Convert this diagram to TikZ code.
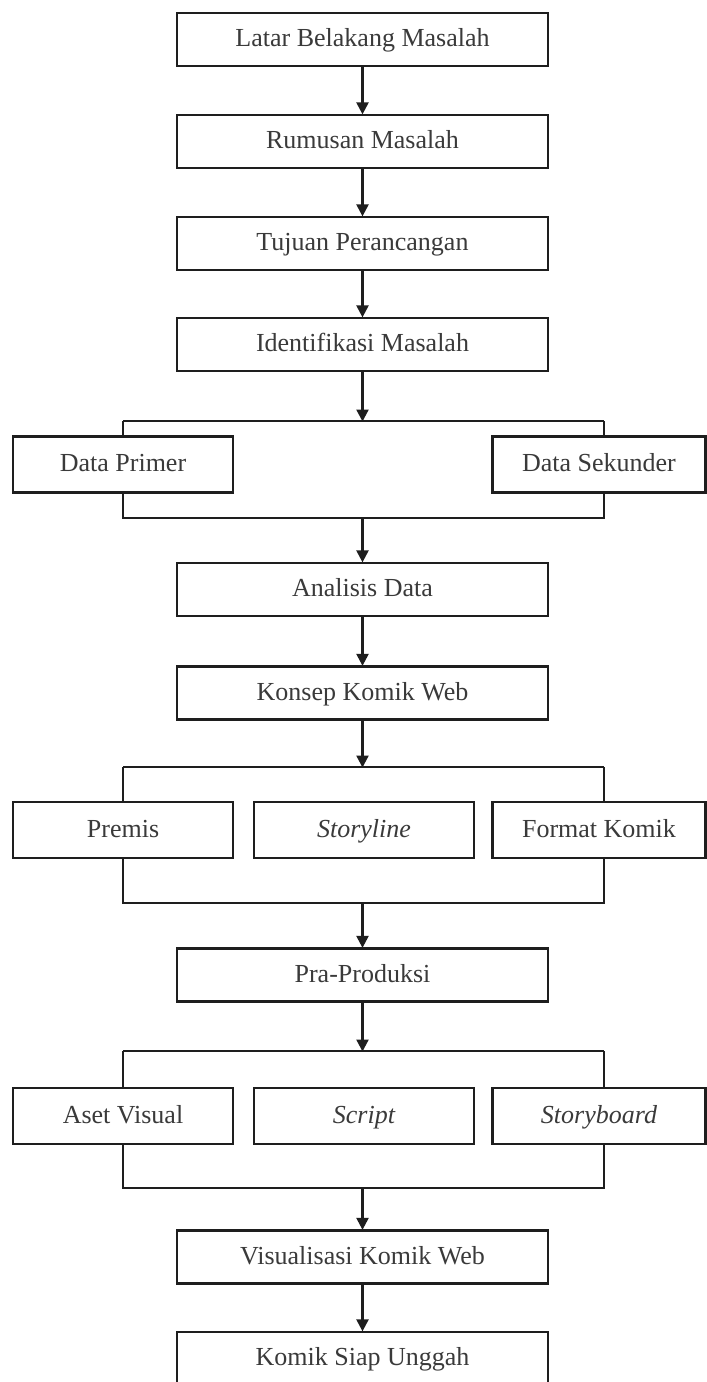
\documentclass[tikz,border=0pt]{standalone}
\usepackage{fontspec}
\setmainfont{Liberation Serif}
\usetikzlibrary{arrows.meta}
\definecolor{linec}{HTML}{1E1E1E}
\definecolor{textc}{HTML}{3A3A3A}
\tikzset{
  boxc/.style={draw=linec, line width=2.3pt, fill=white, inner sep=0pt,
    minimum width=371pt, minimum height=53pt, text=textc,
    text height=18pt, text depth=4pt,
    font=\fontsize{26}{30}\selectfont},
  boxs/.style={boxc, minimum width=220pt, minimum height=56pt},
  boxr/.style={boxc, minimum width=213pt, minimum height=56pt},
  conn/.style={draw=linec, line width=2.3pt},
  arr/.style={conn, -{Triangle[length=12pt,width=12pt]}, shorten >=-0.5pt},
}
\begin{document}
\begin{tikzpicture}[x=1pt,y=-1pt]
\useasboundingbox[fill=white] (0,0) rectangle (707,1382);

% main column boxes
\node[boxc] (b1) at (362.5,39.5) {Latar Belakang Masalah};
\node[boxc] (b2) at (362.5,141.5) {Rumusan Masalah};
\node[boxc] (b3) at (362.5,243.5) {Tujuan Perancangan};
\node[boxc] (b4) at (362.5,344.5) {Identifikasi Masalah};

% bracket 1
\coordinate (t1L) at (123,421);
\coordinate (t1R) at (604,421);
\coordinate (t1C) at (362.5,421);
\coordinate (u1L) at (123,518);
\coordinate (u1R) at (604,518);
\coordinate (u1C) at (362.5,518);
\node[boxs] (dp) at (123,464.5) {Data Primer};
\node[boxr] (ds) at (599,464.5) {Data Sekunder};

\node[boxc] (an) at (362.5,589.5) {Analisis Data};
\node[boxc] (ko) at (362.5,693) {Konsep Komik Web};

% bracket 2
\coordinate (t2L) at (123,767);
\coordinate (t2R) at (604,767);
\coordinate (t2C) at (362.5,767);
\coordinate (u2L) at (123,903);
\coordinate (u2R) at (604,903);
\coordinate (u2C) at (362.5,903);
\node[boxs] (pr) at (123,830) {Premis};
\node[boxs] (st) at (364,830) {\itshape Storyline};
\node[boxr] (fk) at (599,830) {Format Komik};

\node[boxc] (pp) at (362.5,975) {Pra-Produksi};

% bracket 3
\coordinate (t3L) at (123,1051);
\coordinate (t3R) at (604,1051);
\coordinate (t3C) at (362.5,1051);
\coordinate (u3L) at (123,1188);
\coordinate (u3R) at (604,1188);
\coordinate (u3C) at (362.5,1188);
\node[boxs] (av) at (123,1116) {Aset Visual};
\node[boxs] (sc) at (364,1116) {\itshape Script};
\node[boxr] (sb) at (599,1116) {\itshape Storyboard};

\node[boxc] (vi) at (362.5,1257) {Visualisasi Komik Web};
\node[boxc] (ks) at (362.5,1358.5) {Komik Siap Unggah};

% arrows in main column
\draw[arr] (b1.south) -- (b2.north);
\draw[arr] (b2.south) -- (b3.north);
\draw[arr] (b3.south) -- (b4.north);
\draw[arr] (b4.south) -- (t1C);

% bracket 1 lines
\draw[conn] (t1L) -- (t1R);
\draw[conn] (t1L) -- (dp.north -| t1L);
\draw[conn] (t1R) -- (ds.north -| t1R);
\draw[conn] (dp.south -| u1L) -- (u1L) -- (u1R) -- (ds.south -| u1R);
\draw[arr] (u1C) -- (an.north);
\draw[arr] (an.south) -- (ko.north);
\draw[arr] (ko.south) -- (t2C);

% bracket 2 lines
\draw[conn] (t2L) -- (t2R);
\draw[conn] (t2L) -- (pr.north -| t2L);
\draw[conn] (t2R) -- (fk.north -| t2R);
\draw[conn] (pr.south -| u2L) -- (u2L) -- (u2R) -- (fk.south -| u2R);
\draw[arr] (u2C) -- (pp.north);
\draw[arr] (pp.south) -- (t3C);

% bracket 3 lines
\draw[conn] (t3L) -- (t3R);
\draw[conn] (t3L) -- (av.north -| t3L);
\draw[conn] (t3R) -- (sb.north -| t3R);
\draw[conn] (av.south -| u3L) -- (u3L) -- (u3R) -- (sb.south -| u3R);
\draw[arr] (u3C) -- (vi.north);
\draw[arr] (vi.south) -- (ks.north);
\end{tikzpicture}
\end{document}
